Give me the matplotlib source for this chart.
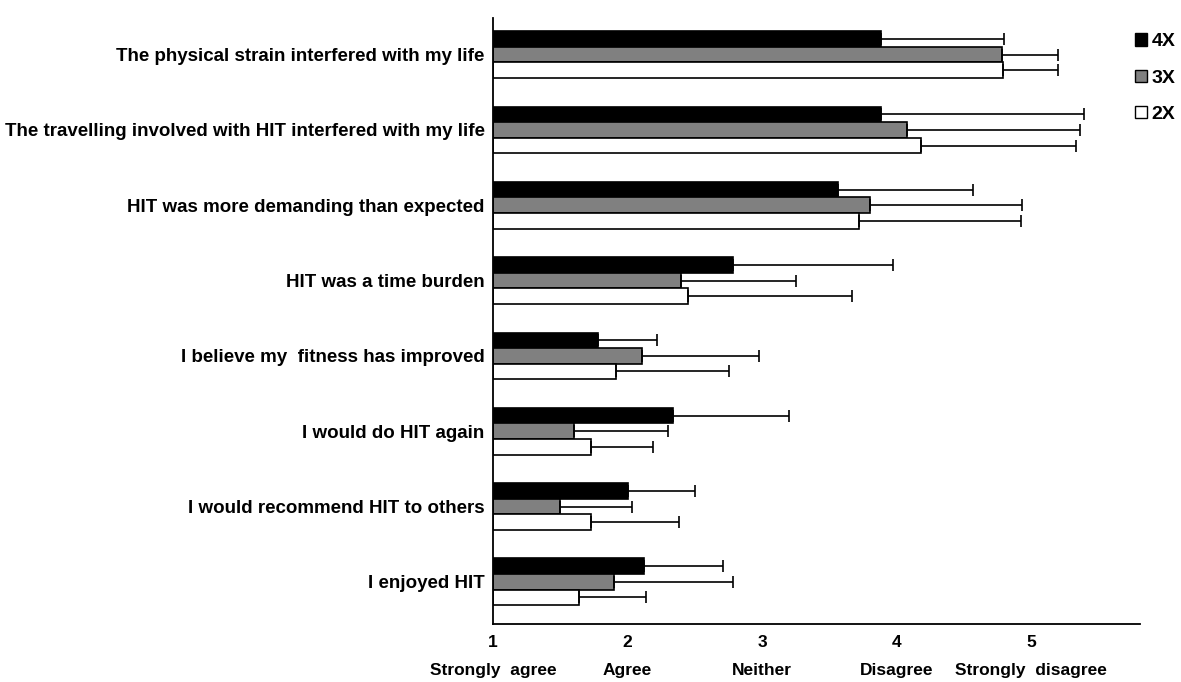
import numpy as np
import matplotlib
matplotlib.use("Agg")
from matplotlib import pyplot as plt
from matplotlib.patches import Patch

plt.rcParams['font.family'] = ['Liberation Sans', 'DejaVu Sans']
plt.rcParams['font.weight'] = 'bold'

# statements, top to bottom
items = ["The physical strain interfered with my life",
         "The travelling involved with HIT interfered with my life",
         "HIT was more demanding than expected",
         "HIT was a time burden",
         "I believe my  fitness has improved",
         "I would do HIT again",
         "I would recommend HIT to others",
         "I enjoyed HIT"]

# mean scores
m4x = [3.88, 3.88, 3.56, 2.78, 1.78, 2.34, 2.00, 2.12]
m3x = [4.78, 4.08, 3.80, 2.40, 2.11, 1.60, 1.50, 1.90]
m2x = [4.79, 4.18, 3.72, 2.45, 1.91, 1.73, 1.73, 1.64]

# SD (drawn one-sided)
sd4x = [0.92, 1.51, 1.01, 1.19, 0.44, 0.86, 0.50, 0.59]
sd3x = [0.42, 1.28, 1.13, 0.85, 0.87, 0.70, 0.53, 0.88]
sd2x = [0.41, 1.15, 1.20, 1.22, 0.84, 0.46, 0.65, 0.50]

ticks = [1, 2, 3, 4, 5]
tick_words = ["Strongly  agree", "Agree", "Neither", "Disagree", "Strongly  disagree"]

fig = plt.figure(figsize=(11.81, 6.82), dpi=100)
ax = fig.add_axes([0.4175, 0.085, 0.548, 0.889])

y = np.arange(len(items))
h = 0.207
series = [(m4x, sd4x, "black", "4X", -h),
          (m3x, sd3x, "#808080", "3X", 0),
          (m2x, sd2x, "white", "2X", h)]

for m, sd, col, lab, off in series:
    m = np.array(m)
    # bars start at 1 (scale origin)
    ax.barh(y + off, m - 1, left=1, height=h, color=col, edgecolor="black",
            linewidth=1.2, label=lab)
    ax.errorbar(m, y + off, xerr=[np.zeros(len(sd)), sd], fmt="none",
                ecolor="black", elinewidth=1.2, capsize=4, capthick=1.2)

ax.set_xlim(1, 5.81)
ax.set_ylim(7.56, -0.49)
ax.set_yticks(y)
ax.set_yticklabels(items, fontsize=13.5, fontweight="bold")
ax.set_xticks(ticks)
ax.set_xticklabels([f"{t}\n{w}" for t, w in zip(ticks, tick_words)],
                   fontsize=12.5, fontweight="bold", linespacing=2.1)
ax.tick_params(axis="y", length=0, pad=6)
ax.tick_params(axis="x", length=0, pad=8)
for s in ["top", "right"]:
    ax.spines[s].set_visible(False)
for s in ["left", "bottom"]:
    ax.spines[s].set_linewidth(1.3)

handles = [Patch(facecolor=c, edgecolor="black", label=l) for _, _, c, l, _ in series]
fig.legend(handles=handles, loc="upper right", bbox_to_anchor=(1.01, 0.977),
           frameon=False, handlelength=0.6, handleheight=0.6, handletextpad=0.25,
           labelspacing=1.0, prop={"size": 14, "weight": "bold"})

plt.savefig("out.png", dpi=100)
